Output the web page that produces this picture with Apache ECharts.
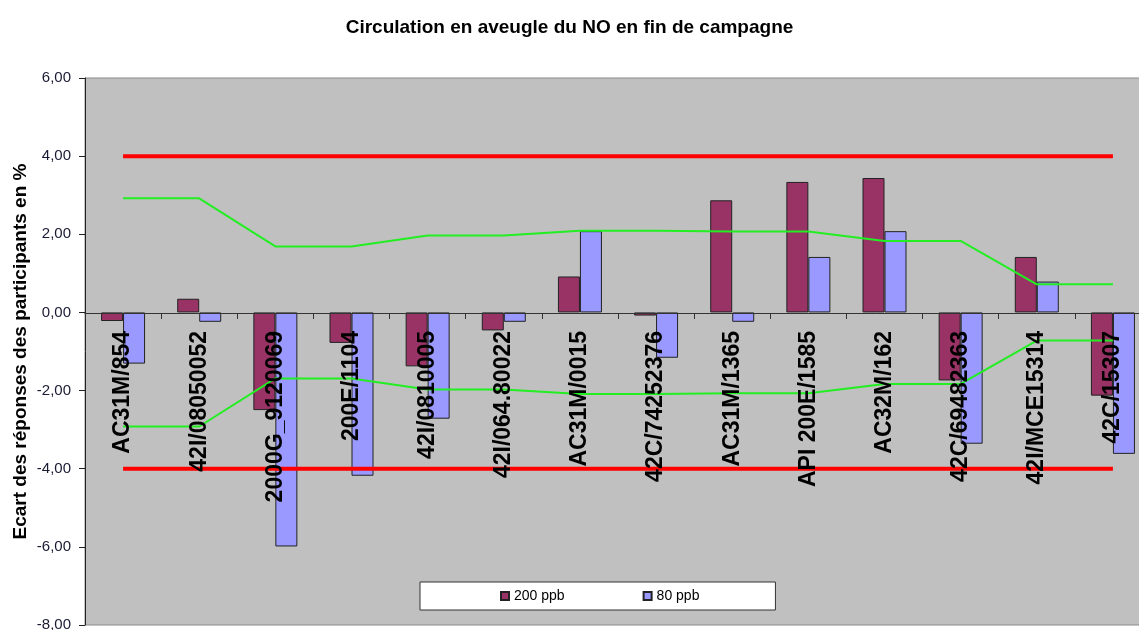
<!DOCTYPE html>
<html>
<head>
<meta charset="utf-8">
<script src="https://cdn.jsdelivr.net/npm/echarts@6/dist/echarts.min.js"></script>
<style>
  html, body { margin: 0; padding: 0; background: #fff; }
  #chart { width: 1139px; height: 630px; }
</style>
</head>
<body>
<div id="chart"></div>
<script>
// analyseurs (étiquettes de l'axe X)
const categories = ['AC31M/854', '42I/08050052', '2000G_9120069', '200E/1104', '42I/0810005',
  '42I/064.80022', 'AC31M/0015', '42C/74252376', 'AC31M/1365', 'API 200E/1585',
  'AC32M/162', '42C/69482363', '42I/MCE15314', '42C/15307'];

// écarts en %
const values200 = [-0.22, 0.35, -2.50, -0.78, -1.38, -0.46, 0.92, -0.08, 2.87, 3.34, 3.44, -1.74, 1.42, -2.13];
const values80 = [-1.31, -0.24, -5.99, -4.18, -2.72, -0.24, 2.08, -1.16, -0.24, 1.42, 2.08, -3.36, 0.79, -3.62];

// limites
const greenUpper = [2.92, 2.92, 1.69, 1.69, 1.97, 1.97, 2.09, 2.09, 2.07, 2.07, 1.83, 1.83, 0.72, 0.72];
const greenLower = [-2.92, -2.92, -1.69, -1.69, -1.97, -1.97, -2.09, -2.09, -2.07, -2.07, -1.83, -1.83, -0.72, -0.72];
const redUpper = [4, 4, 4, 4, 4, 4, 4, 4, 4, 4, 4, 4, 4, 4];
const redLower = [-4, -4, -4, -4, -4, -4, -4, -4, -4, -4, -4, -4, -4, -4];

const chart = echarts.init(document.getElementById('chart'));

const limitLine = (data, color, width) => ({
  type: 'line',
  data: data,
  symbol: 'none',
  silent: true,
  lineStyle: { color: color, width: width },
  z: 4
});

const option = {
  animation: false,
  textStyle: { fontFamily: '"Liberation Sans", Arial, sans-serif' },
  title: {
    text: 'Circulation en aveugle du NO en fin de campagne',
    left: 'center',
    top: 13,
    textStyle: { fontSize: 19, fontWeight: 'bold', color: '#000' }
  },
  legend: {
    data: ['200 ppb', '80 ppb'],
    top: 582,
    left: 420,
    padding: [7, 76, 7, 80],
    itemWidth: 8,
    itemHeight: 8,
    itemGap: 78,
    icon: 'rect',
    backgroundColor: '#fff',
    borderColor: '#333',
    borderWidth: 1,
    textStyle: { fontSize: 14, color: '#000' }
  },
  grid: {
    left: 85,
    right: -12,
    top: 78,
    bottom: 5,
    outerBoundsMode: 'none',
    containLabel: false,
    show: true,
    backgroundColor: '#C0C0C0',
    borderColor: '#8a8a8a',
    borderWidth: 1
  },
  xAxis: {
    type: 'category',
    data: categories,
    z: 10,
    // l'axe est remonté sur la ligne du zéro (étiquettes comprises)
    offset: -312,
    axisLine: { onZero: false, lineStyle: { color: '#333', width: 1 } },
    axisTick: { show: true, length: 6, lineStyle: { color: '#333' } },
    axisLabel: {
      rotate: 90,
      margin: 18,
      fontSize: 23,
      fontWeight: 'bold',
      color: '#000',
      interval: 0
    }
  },
  yAxis: {
    type: 'value',
    min: -8,
    max: 6,
    interval: 2,
    name: 'Ecart des réponses des participants en %',
    nameLocation: 'middle',
    nameGap: 55,
    nameMoveOverlap: false,
    nameRotate: 90,
    nameTextStyle: { fontSize: 19, fontWeight: 'bold', color: '#000' },
    axisLine: { show: true, lineStyle: { color: '#222', width: 1 } },
    axisTick: { show: true, length: 6, lineStyle: { color: '#222' } },
    splitLine: { show: false },
    axisLabel: {
      margin: 14,
      fontSize: 15,
      color: '#1a1a33',
      formatter: v => v.toFixed(2).replace('.', ',')
    }
  },
  series: [
    {
      name: '200 ppb',
      type: 'bar',
      data: values200,
      barWidth: 22,
      barGap: 0,
      itemStyle: { color: '#993366', borderColor: '#222', borderWidth: 1 }
    },
    {
      name: '80 ppb',
      type: 'bar',
      data: values80,
      barWidth: 22,
      barGap: 0,
      itemStyle: { color: '#9999FF', borderColor: '#222', borderWidth: 1 }
    },
    limitLine(redUpper, '#FF0000', 4),
    limitLine(redLower, '#FF0000', 4),
    limitLine(greenUpper, '#22EE22', 2),
    limitLine(greenLower, '#22EE22', 2)
  ]
};

chart.setOption(option);
</script>
</body>
</html>
